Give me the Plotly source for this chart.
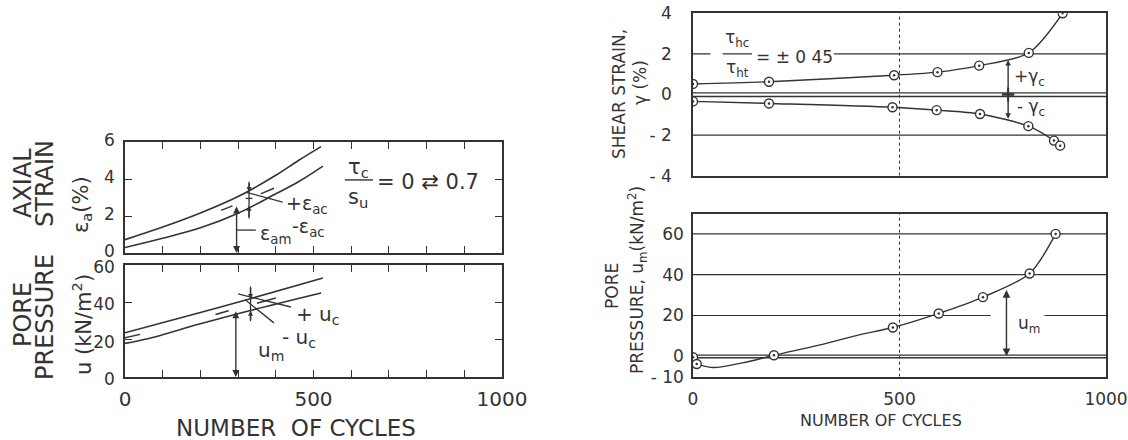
import plotly.graph_objects as go

W, H = 1128, 440
INK = "#333333"
FONT = "DejaVu Sans"

# ---------------- data ----------------
# Left top panel: axial strain (%) vs number of cycles
eps_up_cycles = [0, 100, 200, 300, 400, 460, 520]
eps_up = [0.72, 1.40, 2.16, 3.05, 4.20, 5.00, 5.75]
eps_lo_cycles = [0, 100, 200, 300, 400, 460, 525]
eps_lo = [0.30, 0.80, 1.36, 2.15, 3.20, 3.85, 4.70]
eps_mean_cycles = [255, 285, None, 360, 395]
eps_mean = [2.30, 2.55, None, 3.20, 3.50]

# Left bottom panel: pore pressure (kN/m2) vs number of cycles
u_up_cycles = [0, 200, 330, 525]
u_up = [23.7, 34.5, 41.8, 53.0]
u_lo_cycles = [0, 60, 200, 330, 520]
u_lo = [18.0, 20.5, 28.5, 35.5, 45.0]
u_mean_cycles = [0, 40, None, 240, 275, None, 350, 400]
u_mean = [21.0, 22.8, None, 33.5, 35.5, None, 39.5, 42.3]

# Right top panel: shear strain (%) vs number of cycles
g_pos_cycles = [0, 184, 487, 592, 693, 813, 895]
g_pos = [0.52, 0.63, 0.95, 1.10, 1.42, 2.05, 4.00]
g_neg_cycles = [0, 184, 483, 590, 695, 812, 874, 889]
g_neg = [-0.34, -0.44, -0.63, -0.77, -0.96, -1.56, -2.27, -2.52]

# Right bottom panel: mean pore pressure u_m (kN/m2) vs number of cycles
um_pt_cycles = [0, 9, 196, 484, 595, 702, 815, 878]
um_pt = [-0.5, -3.8, 0.5, 14.1, 21.0, 29.0, 40.6, 60.0]
um_curve_cycles = [9, 49, 120, 196, 318, 402, 484, 595, 702, 815, 878]
um_curve = [-3.8, -5.5, -3.2, 0.5, 6.1, 10.5, 14.1, 21.0, 29.0, 40.6, 60.0]

# tick labels
left_x_ticks = list(range(0, 1001, 100))
left_x_text = ["0" if v == 0 else "500" if v == 500 else "1000" if v == 1000 else "" for v in left_x_ticks]
eps_ticks = [0, 2, 4, 6]
u_ticks = [0, 20, 40, 60]
g_ticks = [-4, -2, 0, 2, 4]
g_text = ["- 4", "- 2", "0", "2", "4"]
um_ticks = [-10, 0, 20, 40, 60]
um_text = ["- 10", "0", "20", "40", "60"]
right_x_ticks = [0, 500, 1000]

# ---------------- figure ----------------
fig = go.Figure()


def px_dom(a, b, total):
    return [a / total, b / total]


def py_dom(top, bottom):
    return [1 - bottom / H, 1 - top / H]


# left top
fig.add_trace(go.Scatter(x=eps_up_cycles, y=eps_up, mode="lines", line=dict(color=INK, width=1.6, shape="spline"), xaxis="x", yaxis="y"))
fig.add_trace(go.Scatter(x=eps_lo_cycles, y=eps_lo, mode="lines", line=dict(color=INK, width=1.6, shape="spline"), xaxis="x", yaxis="y"))
fig.add_trace(go.Scatter(x=eps_mean_cycles, y=eps_mean, mode="lines", line=dict(color=INK, width=1.4), connectgaps=False, xaxis="x", yaxis="y"))
# left bottom
fig.add_trace(go.Scatter(x=u_up_cycles, y=u_up, mode="lines", line=dict(color=INK, width=1.6, shape="spline"), xaxis="x2", yaxis="y2"))
fig.add_trace(go.Scatter(x=u_lo_cycles, y=u_lo, mode="lines", line=dict(color=INK, width=1.6, shape="spline"), xaxis="x2", yaxis="y2"))
fig.add_trace(go.Scatter(x=u_mean_cycles, y=u_mean, mode="lines", line=dict(color=INK, width=1.4), connectgaps=False, xaxis="x2", yaxis="y2"))
# right top
for cx, cy in ((g_pos_cycles, g_pos), (g_neg_cycles, g_neg)):
    fig.add_trace(go.Scatter(x=cx, y=cy, mode="lines", line=dict(color=INK, width=1.4, shape="spline", smoothing=0.8), xaxis="x3", yaxis="y3"))
    fig.add_trace(go.Scatter(x=cx, y=cy, mode="markers", marker=dict(symbol="circle", size=9, color="white", line=dict(color=INK, width=1.4)), xaxis="x3", yaxis="y3"))
    fig.add_trace(go.Scatter(x=cx, y=cy, mode="markers", marker=dict(symbol="circle", size=2.5, color=INK), xaxis="x3", yaxis="y3"))
# right bottom
fig.add_trace(go.Scatter(x=um_curve_cycles, y=um_curve, mode="lines", line=dict(color=INK, width=1.4, shape="spline", smoothing=0.8), xaxis="x4", yaxis="y4"))
fig.add_trace(go.Scatter(x=um_pt_cycles, y=um_pt, mode="markers", marker=dict(symbol="circle", size=9, color="white", line=dict(color=INK, width=1.4)), xaxis="x4", yaxis="y4"))
fig.add_trace(go.Scatter(x=um_pt_cycles, y=um_pt, mode="markers", marker=dict(symbol="circle", size=2.5, color=INK), xaxis="x4", yaxis="y4"))

tick_font_left_x = dict(family=FONT, size=20, color=INK)
tick_font_left_y = dict(family=FONT, size=17, color=INK)
tick_font_right = dict(family=FONT, size=17, color=INK)

left_x = dict(domain=px_dom(125, 502, W), range=[0, 1000], tickvals=left_x_ticks, ticktext=left_x_text,
              ticks="inside", ticklen=7, tickwidth=1.4, tickcolor=INK, showline=True, linecolor=INK, linewidth=1.6,
              mirror="ticks", showgrid=False, zeroline=False, tickfont=tick_font_left_x, ticklabelstandoff=3,
              automargin=False)
right_x = dict(domain=px_dom(693, 1106, W), range=[0, 1000], tickvals=right_x_ticks, ticks="", showline=True,
               linecolor=INK, linewidth=1.5, mirror=True, showgrid=False, zeroline=False, tickfont=tick_font_right,
               ticklabelstandoff=6, automargin=False)

fig.update_layout(
    width=W, height=H, margin=dict(l=0, r=0, t=0, b=0, pad=0, autoexpand=False), showlegend=False,
    paper_bgcolor="white", plot_bgcolor="white",
    xaxis=dict(left_x, anchor="y", showticklabels=False),
    yaxis=dict(domain=py_dom(142, 253), range=[0, 6], tickvals=eps_ticks, ticks="inside", ticklen=7, tickwidth=1.4,
               tickcolor=INK, showline=True, linecolor=INK, linewidth=1.6, mirror="ticks", showgrid=False,
               zeroline=False, tickfont=tick_font_left_y, anchor="x", ticklabelstandoff=5, ticklabelshift=-2,
               automargin=False),
    xaxis2=dict(left_x, anchor="y2"),
    yaxis2=dict(domain=py_dom(265, 377), range=[0, 60], tickvals=u_ticks, ticks="inside", ticklen=7, tickwidth=1.4,
                tickcolor=INK, showline=True, linecolor=INK, linewidth=1.6, mirror="ticks", showgrid=False,
                zeroline=False, tickfont=tick_font_left_y, anchor="x2", ticklabelstandoff=5, ticklabelshift=2,
                automargin=False),
    xaxis3=dict(right_x, anchor="y3", showticklabels=False),
    yaxis3=dict(domain=py_dom(13.3, 175.7), range=[-4, 4], tickvals=g_ticks, ticktext=g_text, ticks="",
                showline=True, linecolor=INK, linewidth=1.5, mirror=True, showgrid=False, zeroline=False,
                tickfont=tick_font_right, anchor="x3", ticklabelstandoff=16, automargin=False),
    xaxis4=dict(right_x, anchor="y4"),
    yaxis4=dict(domain=py_dom(213.5, 376.7), range=[-10, 70], tickvals=um_ticks, ticktext=um_text, ticks="",
                showline=True, linecolor=INK, linewidth=1.5, mirror=True, showgrid=False, zeroline=False,
                tickfont=tick_font_right, anchor="x4", ticklabelstandoff=4, automargin=False),
)

shapes = []


def seg(xref, yref, x0, y0, x1, y1, w=1.4, dash="solid"):
    shapes.append(dict(type="line", xref=xref, yref=yref, x0=x0, y0=y0, x1=x1, y1=y1,
                       line=dict(color=INK, width=w, dash=dash), layer="below"))


# right top grid
seg("x3", "y3", 0, 2, 42, 2, 1.2)
seg("x3", "y3", 341, 2, 1000, 2, 1.2)
seg("x3", "y3", 0, -2, 1000, -2, 1.2)
seg("x3", "y3", 0, 0.08, 1000, 0.08, 1.4)
seg("x3", "y3", 0, -0.1, 1000, -0.1, 1.4)
seg("x3", "y3", 500, -4, 500, 4, 1, "dot")
# right bottom grid
seg("x4", "y4", 0, 60, 1000, 60, 1.2)
seg("x4", "y4", 0, 40, 1000, 40, 1.2)
seg("x4", "y4", 0, 20, 721, 20, 1.2)
seg("x4", "y4", 851, 20, 1000, 20, 1.2)
seg("x4", "y4", 0, 0.6, 1000, 0.6, 1.4)
seg("x4", "y4", 0, -0.7, 1000, -0.7, 1.4)
seg("x4", "y4", 500, -10, 500, 70, 1, "dot")
# fraction bars
seg("x", "y", 583, 3.95, 658, 3.95, 1.4)
seg("x3", "y3", 72, 2.0, 143, 2.0, 1.3)
# left top helpers
seg("x", "y", 296, 1.24, 347, 1.24, 1.3)
seg("x", "y", 329, 1.87, 329, 3.85, 1.3)
seg("x", "y", 322, 3.28, 418, 2.75, 1.3)
seg("x", "y", 320, 2.95, 338, 2.95, 1.3)
# left bottom helpers
seg("x2", "y2", 333, 29.9, 333, 48.5, 1.3)
seg("x2", "y2", 300, 44.5, 440, 37.5, 1.3)
seg("x2", "y2", 318, 41.5, 395, 29.0, 1.3)
# right top cross
seg("x3", "y3", 748, 0, 778, 0, 2.6)
seg("x3", "y3", 763, -0.35, 763, 0.35, 2.0)
fig.update_layout(shapes=shapes)

ann = []


def arrow(xr, yr, x, y, ax, ay, both=False, size=1.0):
    ann.append(dict(xref=xr, yref=yr, axref=xr, ayref=yr, x=x, y=y, ax=ax, ay=ay, text="", showarrow=True,
                    arrowhead=2, arrowsize=size, arrowwidth=1.4, arrowcolor=INK,
                    arrowside="end+start" if both else "end", startarrowhead=2, startarrowsize=size))


def txt(xr, yr, x, y, s, size, xanchor="center", angle=0):
    ann.append(dict(xref=xr, yref=yr, x=x, y=y, text=s, showarrow=False, xanchor=xanchor, yanchor="middle",
                    textangle=angle, font=dict(family=FONT, size=size, color=INK)))


# arrows
arrow("x", "y", 296, 0, 296, 2.6, both=True)
arrow("x", "y", 329, 3.3, 329, 3.85, size=0.7)
arrow("x", "y", 329, 2.55, 329, 1.87, size=0.7)
arrow("x2", "y2", 294, 0, 294, 36, both=True)
arrow("x2", "y2", 333, 41.8, 333, 48.5, size=0.7)
arrow("x2", "y2", 333, 35.5, 333, 29.9, size=0.7)
arrow("x3", "y3", 763, 1.7, 763, 0, size=0.8)
arrow("x3", "y3", 763, -1.2, 763, 0, size=0.8)
arrow("x4", "y4", 759, 0, 759, 33.2, both=True, size=1.1)

# in-plot texts
txt("x", "y", 619, 4.62, "τ<sub>c</sub>", 21)
txt("x", "y", 619, 3.0, "s<sub>u</sub>", 21)
txt("x", "y", 662, 3.85, "= 0 ⇄ 0.7", 21, xanchor="left")
txt("x", "y", 482, 2.6, "+ε<sub>ac</sub>", 19)
txt("x", "y", 486, 1.38, "-ε<sub>ac</sub>", 19)
txt("x", "y", 400, 1.0, "ε<sub>am</sub>", 19)
txt("x2", "y2", 513, 33.2, "+ u<sub>c</sub>", 20)
txt("x2", "y2", 461, 21, "- u<sub>c</sub>", 20)
txt("x2", "y2", 386, 13.8, "u<sub>m</sub>", 20)
txt("x3", "y3", 107, 2.75, "τ<sub>hc</sub>", 17)
txt("x3", "y3", 107, 1.30, "τ<sub>ht</sub>", 17)
txt("x3", "y3", 147, 1.85, "= ± 0 45", 17, xanchor="left")
txt("x3", "y3", 815, 0.84, "+γ<sub>c</sub>", 17)
txt("x3", "y3", 818, -0.66, "- γ<sub>c</sub>", 17)
txt("x4", "y4", 814, 15.4, "u<sub>m</sub>", 17)


# axis titles (paper coords)
def ptxt(px, py, s, size, angle=-90):
    txt("paper", "paper", px / W, 1 - py / H, s, size, angle=angle)


ptxt(23, 183, "AXIAL", 24)
ptxt(45, 184, "STRAIN", 24)
ptxt(82, 205, "ε<sub>a</sub>(%)", 21)
ptxt(23, 315, "PORE", 24)
ptxt(45, 317, "PRESSURE", 24)
ptxt(82, 325, "u (kN/m<sup>2</sup>)", 21)
ptxt(296, 428, "NUMBER  OF CYCLES", 23, angle=0)
ptxt(619, 94, "SHEAR STRAIN,", 17)
ptxt(640, 83, "γ (%)", 17)
ptxt(612, 286, "PORE", 17)
ptxt(637, 280, "PRESSURE, u<sub>m</sub>(kN/m<sup>2</sup>)", 17)
ptxt(881, 420, "NUMBER OF CYCLES", 16, angle=0)

fig.update_layout(annotations=ann)
fig.write_html("out.html")
